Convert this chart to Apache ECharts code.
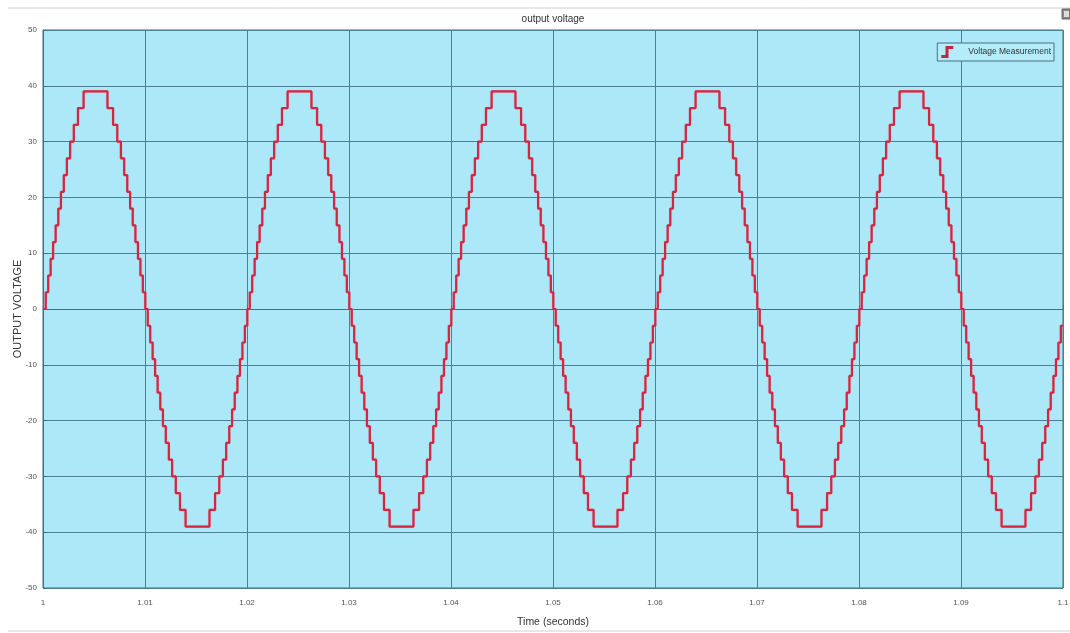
<!DOCTYPE html>
<html>
<head>
<meta charset="utf-8">
<script src="https://cdn.jsdelivr.net/npm/echarts@6/dist/echarts.min.js"></script>
<style>
html,body{margin:0;padding:0;background:#ffffff;}
#chart{width:1070px;height:633px;}
</style>
</head>
<body>
<div id="chart"></div>
<script>
// Start times of each output cycle (seconds)
const cycleStarts = [1.00, 1.02, 1.04, 1.06, 1.08];
// Time of every level change inside one cycle (ms from cycle start)
const stepTimesMs = [
  0.27, 0.51, 0.75, 0.99, 1.24, 1.50, 1.76, 2.04, 2.34, 2.66, 3.02, 3.43, 3.98,
  6.32, 6.87, 7.28, 7.64, 7.96, 8.26, 8.54, 8.80, 9.06, 9.31, 9.55, 9.79, 10.03,
  10.27, 10.51, 10.75, 10.99, 11.24, 11.50, 11.76, 12.04, 12.34, 12.66, 13.02, 13.43, 13.98,
  16.32, 16.87, 17.28, 17.64, 17.96, 18.26, 18.54, 18.80, 19.06, 19.31, 19.55, 19.79, 20.03
];
// Voltage level after each change (V)
const stepLevels = [
  3, 6, 9, 12, 15, 18, 21, 24, 27, 30, 33, 36, 39,
  36, 33, 30, 27, 24, 21, 18, 15, 12, 9, 6, 3, 0,
  -3, -6, -9, -12, -15, -18, -21, -24, -27, -30, -33, -36, -39,
  -36, -33, -30, -27, -24, -21, -18, -15, -12, -9, -6, -3, 0
];
const startLevel = 0;
const tStart = 1.0, tEnd = 1.1;

const data = [[tStart, startLevel]];
let last = startLevel;
cycleStarts.forEach(function (c) {
  stepTimesMs.forEach(function (ms, i) {
    const t = c + ms / 1000;
    if (t < tEnd) { data.push([t, stepLevels[i]]); last = stepLevels[i]; }
  });
});
data.push([tEnd, last]);

const chart = echarts.init(document.getElementById('chart'));
const gridColor = '#4d7f94';
const font = 'Liberation Sans, Arial, sans-serif';
chart.setOption({
  animation: false,
  backgroundColor: '#ffffff',
  grid: {
    left: 43, right: 7, top: 30, bottom: 45,
    containLabel: false, outerBoundsMode: 'none',
    show: true, backgroundColor: '#ace8f8', borderColor: '#3f6f84', borderWidth: 1
  },
  legend: {
    right: 16, top: 43,
    orient: 'vertical',
    itemWidth: 12, itemHeight: 12,
    itemGap: 4,
    padding: [3, 3, 3, 4],
    borderColor: '#4d6e80', borderWidth: 1,
    backgroundColor: '#b4ecfa',
    textStyle: { fontSize: 8.5, color: '#333', fontFamily: font, padding: [0, 0, 0, 10] },
    data: [{
      name: 'Voltage Measurement',
      icon: 'path://M0,10 L0,7.5 L3.5,7.5 L3.5,0 L10,0 L10,2.5 L6,2.5 L6,10 Z',
      itemStyle: { color: '#c22840' }
    }]
  },
  xAxis: {
    type: 'value', min: tStart, max: tEnd, interval: 0.01,
    name: 'Time (seconds)', nameLocation: 'middle', nameGap: 29, nameMoveOverlap: false,
    nameTextStyle: { fontSize: 10.5, color: '#333', fontFamily: font },
    axisLine: { show: true, lineStyle: { color: '#3f6f84' } },
    axisTick: { show: true, inside: true, length: 4, lineStyle: { color: '#3f6f84' } },
    axisLabel: {
      fontSize: 8, color: '#555', margin: 11, fontFamily: font,
      formatter: function (v) { return String(parseFloat(v.toFixed(2))); }
    },
    splitLine: { show: true, lineStyle: { color: gridColor, width: 1 } }
  },
  yAxis: {
    type: 'value', min: -50, max: 50, interval: 10,
    name: 'OUTPUT VOLTAGE', nameLocation: 'middle', nameGap: 20, nameMoveOverlap: false,
    nameTextStyle: { fontSize: 11, color: '#333', fontFamily: font },
    axisLine: { show: true, lineStyle: { color: '#3f6f84' } },
    axisTick: { show: true, inside: true, length: 4, lineStyle: { color: '#3f6f84' } },
    axisLabel: { fontSize: 8, color: '#555', margin: 6, fontFamily: font },
    splitLine: { show: true, lineStyle: { color: gridColor, width: 1 } }
  },
  graphic: [
    { type: 'line', shape: { x1: 8, y1: 8, x2: 1070, y2: 8 }, style: { stroke: '#d0d0d0', lineWidth: 1 } },
    { type: 'line', shape: { x1: 8, y1: 631, x2: 1070, y2: 631 }, style: { stroke: '#d0d0d0', lineWidth: 1 } },
    { type: 'text', x: 553, y: 14, style: { text: 'output voltage', fill: '#333', fontSize: 10, fontFamily: font, textAlign: 'center', textVerticalAlign: 'top' } },
    { type: 'rect', shape: { x: 1062, y: 9, width: 8, height: 10 }, style: { fill: '#888', stroke: '#666', lineWidth: 1 } },
    { type: 'rect', shape: { x: 1064, y: 11, width: 5, height: 6 }, style: { fill: '#ddd' } }
  ],
  series: [{
    name: 'Voltage Measurement',
    type: 'line',
    step: 'end',
    showSymbol: false,
    symbol: 'none',
    data: data,
    lineStyle: { color: '#d4263f', width: 2.2, shadowColor: 'rgba(240,120,150,0.6)', shadowBlur: 1 },
    itemStyle: { color: '#c22840' }
  }]
});
</script>
</body>
</html>
